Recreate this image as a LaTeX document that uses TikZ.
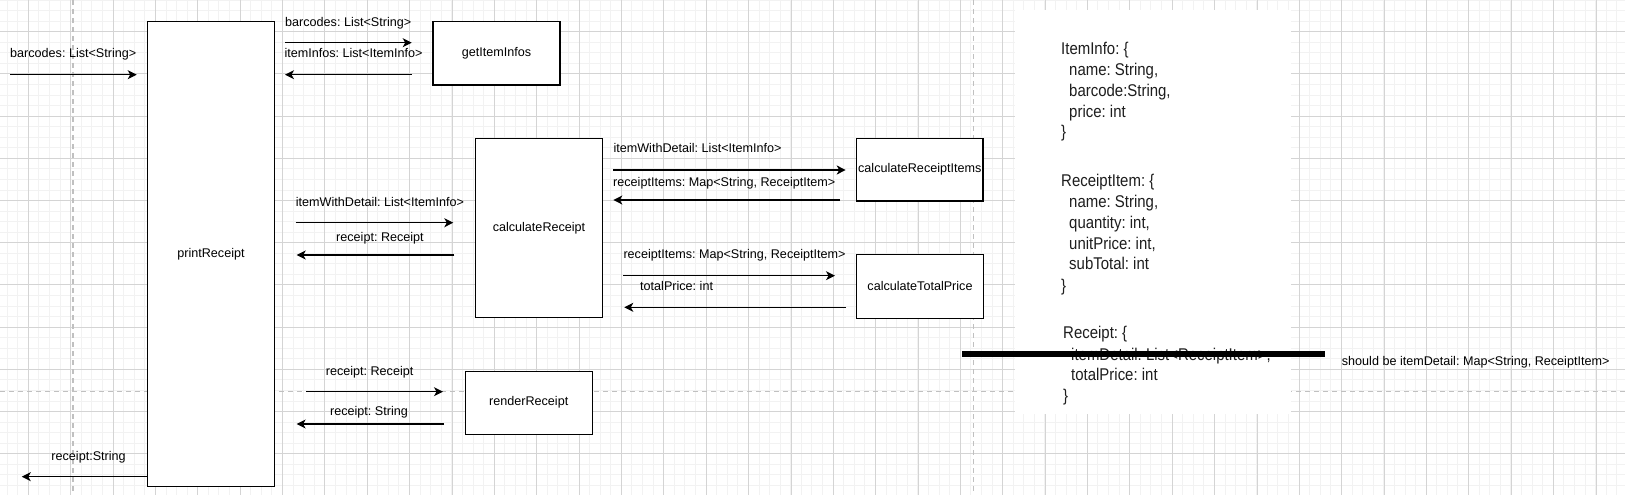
\documentclass[tikz,border=0pt]{standalone}
\usepackage{fontspec}
\setmainfont{Liberation Sans}
\newfontfamily\notefont[FakeStretch=0.88]{Liberation Sans}
\usepackage{xcolor}
\definecolor{gridminor}{RGB}{242, 242, 242}
\definecolor{gridmajor}{RGB}{212, 212, 212}
\definecolor{pageline}{RGB}{192, 192, 192}
\definecolor{notegrey}{RGB}{30, 30, 30}
\usetikzlibrary{arrows.meta,positioning}
\newcommand{\lblfont}{\fontsize{12.6}{15}\selectfont}
\frenchspacing

\tikzset{
    func/.style={draw=black, line width=1.1pt, fill=white, minimum width=127pt,
        minimum height=63.3pt, inner sep=0pt, font=\lblfont},
    msg/.style={line width=1.1pt, -{Stealth[length=9pt, width=9pt, inset=2.5pt]}},
    lbl/.style={inner sep=0pt, font=\lblfont, text height=9pt, text depth=0pt},
    note/.style={inner sep=0pt, anchor=west, text=notegrey,
        font=\notefont\fontsize{17}{20}\selectfont, text height=12.2pt, text depth=0pt},
}

\begin{document}
\begin{tikzpicture}[x=1pt, y=-1pt]
    \useasboundingbox (0,0) rectangle (1625,495);
    % grid
    \foreach \k in {0,...,152}
        \draw[gridminor, line width=0.9pt] ({7.1+\k*10.59},0) -- ++(0,495);
    \foreach \k in {0,...,46}
        \draw[gridminor, line width=0.9pt] (0,{0.05+\k*10.55}) -- ++(1625,0);
    \foreach \k in {0,...,37}
        \draw[gridmajor, line width=0.9pt] ({28.3+\k*42.37},0) -- ++(0,495);
    \foreach \k in {0,...,10}
        \draw[gridmajor, line width=0.9pt] (0,{31.7+\k*42.2}) -- ++(1625,0);
    % page breaks
    \draw[pageline, line width=1.2pt, dash pattern=on 5pt off 4pt] (73,0) -- (73,495);
    \draw[pageline, line width=1.2pt, dash pattern=on 5pt off 4pt] (973.3,0) -- (973.3,495);
    \draw[pageline, line width=1.2pt, dash pattern=on 5pt off 4pt] (0,391.7) -- (1625,391.7);

    % functions
    \node[func, minimum height=465pt] (printReceipt) at (211,254.2) {printReceipt};
    \node[func] (getItemInfos) at (496.5,53.3) {getItemInfos};
    \node[func, minimum height=179.7pt] (calculateReceipt) at (539,227.9) {calculateReceipt};
    \node[func, minimum width=126.3pt, minimum height=62.7pt] (calculateReceiptItems) at (919.8,169.6) {calculateReceiptItems};
    \node[func, minimum width=126.6pt, minimum height=64pt] (calculateTotalPrice) at (920,286.3) {calculateTotalPrice};
    \node[func] (renderReceipt) at (528.7,402.7) {renderReceipt};

    % message ends
    \coordinate (inA) at (10,74.7);       \coordinate (inB) at (136.7,74.7);
    \coordinate (infoA) at (285,42.7);    \coordinate (infoB) at (411.7,42.7);
    \coordinate (infoC) at (411.7,74.7);  \coordinate (infoD) at (285,74.7);
    \coordinate (calcA) at (295.7,222.7); \coordinate (calcB) at (453.3,222.7);
    \coordinate (calcC) at (454.3,255);   \coordinate (calcD) at (296.7,255);
    \coordinate (itemsA) at (613.3,170);  \coordinate (itemsB) at (845.7,170);
    \coordinate (itemsC) at (840,200);    \coordinate (itemsD) at (613.3,200);
    \coordinate (totalA) at (623.3,275.7); \coordinate (totalB) at (835,275.7);
    \coordinate (totalC) at (846,307.3);  \coordinate (totalD) at (624.3,307.3);
    \coordinate (renderA) at (306,391.7); \coordinate (renderB) at (443,391.7);
    \coordinate (renderC) at (444,424);   \coordinate (renderD) at (296.6,424);
    \coordinate (outB) at (21.8,476.7);

    \draw[msg] (inA) -- (inB);
    \draw[msg] (infoA) -- (infoB);
    \draw[msg] (infoC) -- (infoD);
    \draw[msg] (calcA) -- (calcB);
    \draw[msg] (calcC) -- (calcD);
    \draw[msg] (itemsA) -- (itemsB);
    \draw[msg] (itemsC) -- (itemsD);
    \draw[msg] (totalA) -- (totalB);
    \draw[msg] (totalC) -- (totalD);
    \draw[msg] (renderA) -- (renderB);
    \draw[msg] (renderC) -- (renderD);
    \draw[msg] (printReceipt.west |- outB) -- (outB);

    % message labels
    \node[lbl, anchor=west] (inLbl) at (10,53.3) {barcodes: List<String>};
    \node[lbl, anchor=west] (infoLblA) at (285,21.7) {barcodes: List<String>};
    \node[lbl, anchor=west] (infoLblB) at (284.3,53.3) {itemInfos: List<ItemInfo>};
    \node[lbl, anchor=west] (calcLblA) at (295.7,201.7) {itemWithDetail: List<ItemInfo>};
    \node[lbl] (calcLblB) at (380,236.7) {receipt: Receipt};
    \node[lbl, anchor=west] (itemsLblA) at (613.3,148.3) {itemWithDetail: List<ItemInfo>};
    \node[lbl, anchor=west] (itemsLblB) at (613,181.7) {receiptItems: Map<String, ReceiptItem>};
    \node[lbl, anchor=west] (totalLblA) at (623.3,254.3) {receiptItems: Map<String, ReceiptItem>};
    \node[lbl, anchor=west] (totalLblB) at (640,286) {totalPrice: int};
    \node[lbl] (renderLblA) at (369.6,370.7) {receipt: Receipt};
    \node[lbl] (renderLblB) at (369,410.7) {receipt: String};
    \node[lbl] (outLbl) at (88.6,456) {receipt:String};

    % type notes
    \node[fill=white, inner sep=0pt, minimum width=276.5pt, minimum height=403.3pt,
        anchor=north west] (panel) at (1014.5,10) {};
    \node[note] (infoHead) at (1061,48.3) {ItemInfo: \{};
    \foreach \t [count=\i from 0] in {{name: String,},{barcode:String,},{price: int}}
        \node[note] (infoField\i) at (1069,{69.3+\i*20.8}) {\t};
    \node[note] (infoEnd) at (1061,131.7) {\}};
    \node[note] (itemHead) at (1061,180) {ReceiptItem: \{};
    \foreach \t [count=\i from 0] in {{name: String,},{quantity: int,},{unitPrice: int,},{subTotal: int}}
        \node[note] (itemField\i) at (1069,{201.7+\i*20.6}) {\t};
    \node[note] (itemEnd) at (1061,285) {\}};
    \node[note] (receiptHead) at (1063,332.7) {Receipt: \{};
    \node[note] (receiptOld) at (1071,354) {itemDetail: List<ReceiptItem>,};
    \node[note] (receiptTotal) at (1071,374.3) {totalPrice: int};
    \node[note] (receiptEnd) at (1063,395) {\}};

    % correction
    \coordinate (strikeA) at (962,354);
    \coordinate (strikeB) at (1325,354);
    \draw[line width=6.3pt] (strikeA) -- (strikeB);
    \node[lbl, anchor=west] (fixLbl) at (1341.7,361) {should be itemDetail: Map<String, ReceiptItem>};
\end{tikzpicture}
\end{document}
